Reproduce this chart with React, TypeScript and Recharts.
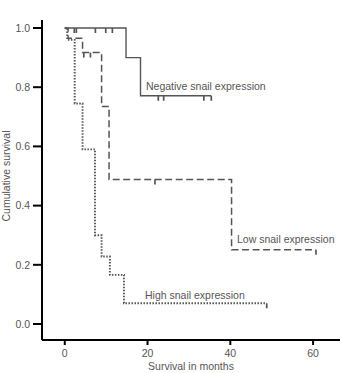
import { LineChart, Line, XAxis, YAxis } from "recharts";

const W = 342;
const H = 373;
const FONT = "'Liberation Sans', Arial, sans-serif";
const INK = "#555";

// Kaplan-Meier steps per group: month of each event, survival after it, censored flag
const negativeMonths = [0, 2.3, 2.8, 7.4, 9.9, 11.5, 14.8, 18.3, 22.6, 23.9, 33.6, 35.4];
const negativeSurvival = [1, 1, 1, 1, 1, 1, 0.9, 0.771, 0.771, 0.771, 0.771, 0.771];
const negativeCensored = [0, 1, 1, 1, 1, 1, 0, 0, 1, 1, 1, 1];

const lowMonths = [0, 0.8, 4.3, 4.6, 6.2, 8.9, 10.7, 21.8, 40.3, 60.7];
const lowSurvival = [1, 0.965, 0.917, 0.917, 0.917, 0.735, 0.488, 0.488, 0.251, 0.251];
const lowCensored = [0, 0, 0, 1, 1, 0, 0, 1, 0, 1];

const highMonths = [0, 0.6, 2.4, 4.3, 7.3, 8.9, 10.9, 14.3, 48.8];
const highSurvival = [1, 0.96, 0.745, 0.59, 0.3, 0.228, 0.166, 0.07, 0.07];
const highCensored = [0, 0, 0, 0, 0, 0, 0, 0, 1];

const xTicks = [0, 20, 40, 60];
const yTicks = [0, 0.2, 0.4, 0.6, 0.8, 1.0];

function toSeries(months: number[], surv: number[], censored: number[]) {
  return months.map((t, i) => ({ t, s: surv[i], c: censored[i] === 1 }));
}

const negative = toSeries(negativeMonths, negativeSurvival, negativeCensored);
const low = toSeries(lowMonths, lowSurvival, lowCensored);
const high = toSeries(highMonths, highSurvival, highCensored);

// small downward tick for censored cases
function CensorMark(props: any) {
  const { cx, cy, payload, index } = props;
  if (!payload || !payload.c || cx == null || cy == null) return <g key={index} />;
  return <line key={index} x1={cx} y1={cy} x2={cx} y2={cy + 5} stroke={INK} strokeWidth={1.7} />;
}

const axisStyle = { stroke: "#000", strokeWidth: 2 };
const tickStyle = { fill: INK, fontSize: 10.5, fontFamily: FONT };

export default function App() {
  return (
    <div style={{ position: "absolute", left: 0, top: 0, width: W, height: H, background: "#fff" }}>
      <LineChart width={W} height={H} margin={{ top: 20, right: 2, bottom: 0, left: 8 }}>
        <XAxis
          type="number"
          dataKey="t"
          domain={[-5.5, 66.5]}
          ticks={xTicks}
          allowDataOverflow
          height={33}
          axisLine={axisStyle}
          tickLine={axisStyle}
          tickSize={5}
          tickMargin={5}
          tick={tickStyle}
        />
        <YAxis
          type="number"
          dataKey="s"
          domain={[-0.054, 1.027]}
          ticks={yTicks}
          allowDataOverflow
          width={34}
          axisLine={axisStyle}
          tickLine={axisStyle}
          tickSize={9}
          tickMargin={3}
          tick={tickStyle}
          tickFormatter={(v: number) => v.toFixed(1)}
        />
        <Line
          data={negative}
          dataKey="s"
          type="stepAfter"
          stroke={INK}
          strokeWidth={1.4}
          dot={CensorMark}
          activeDot={false}
          isAnimationActive={false}
        />
        <Line
          data={low}
          dataKey="s"
          type="stepAfter"
          stroke={INK}
          strokeWidth={1.5}
          strokeDasharray="7 3.5"
          dot={CensorMark}
          activeDot={false}
          isAnimationActive={false}
        />
        <Line
          data={high}
          dataKey="s"
          type="stepAfter"
          stroke={INK}
          strokeWidth={1.9}
          strokeDasharray="1.5 1.5"
          dot={CensorMark}
          activeDot={false}
          isAnimationActive={false}
        />
      </LineChart>
      <svg
        width={W}
        height={H}
        style={{ position: "absolute", left: 0, top: 0, pointerEvents: "none" }}
        fontFamily={FONT}
        fontSize={10.5}
        fill={INK}
      >
        <text x={146} y={90}>Negative snail expression</text>
        <text x={237} y={243}>Low snail expression</text>
        <text x={145} y={299}>High snail expression</text>
        <text x={191} y={370} textAnchor="middle">Survival in months</text>
        <text x={0} y={0} textAnchor="middle" transform="translate(10 176) rotate(-90)">
          Cumulative survival
        </text>
      </svg>
    </div>
  );
}
